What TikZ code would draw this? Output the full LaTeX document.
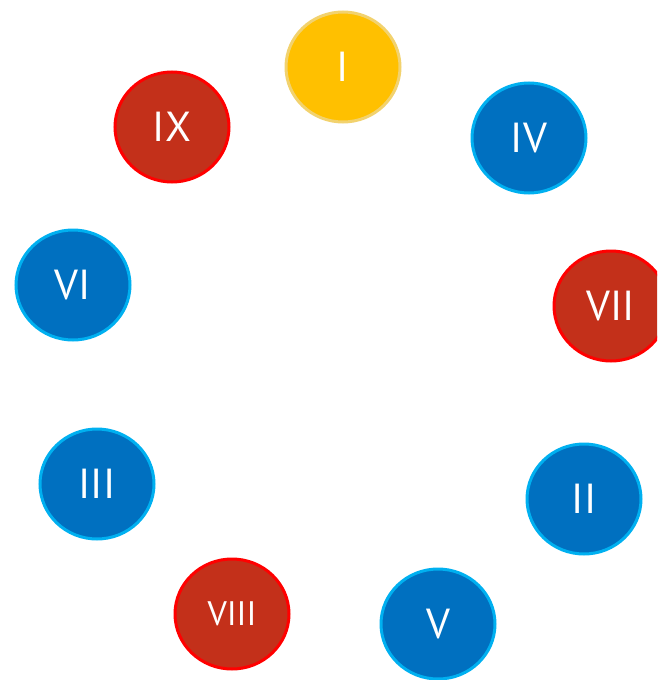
\documentclass[tikz,border=0pt]{standalone}
\usepackage{fontspec}
\setmainfont{PT Sans}
\usetikzlibrary{shapes.geometric}
\definecolor{yfill}{HTML}{FFC000}
\definecolor{ydraw}{HTML}{F2D26E}
\definecolor{bfill}{HTML}{0070C0}
\definecolor{bdraw}{HTML}{00B0F0}
\definecolor{rfill}{HTML}{C3301A}
\definecolor{rdraw}{HTML}{FF0000}
\tikzset{
  disc/.style={ellipse, minimum width=114pt, minimum height=110pt, inner sep=0pt,
    line width=3pt, text=white, font=\fontsize{42}{42}\selectfont},
  ydisc/.style={disc, fill=yfill, draw=ydraw},
  bdisc/.style={disc, fill=bfill, draw=bdraw},
  rdisc/.style={disc, fill=rfill, draw=rdraw},
}
\begin{document}
\begin{tikzpicture}[x=1pt,y=-1pt]
\useasboundingbox (0,0) rectangle (657,680);
\begin{scope}
\clip (0,0) rectangle (657,680);
\node[ydisc] (n1) at (343,67) {I};
\node[bdisc] (n4) at (529,138) {IV};
\node[rdisc] (n7) at (611,306) {VII};
\node[bdisc] (n2) at (584,499) {II};
\node[bdisc] (n5) at (438,624) {V};
\node[rdisc, font=\fontsize{34}{34}\selectfont] (n8) at (232,614) {VIII};
\node[bdisc] (n3) at (97,484) {III};
\node[bdisc] (n6) at (73,285) {VI};
\node[rdisc] (n9) at (172,127) {IX};
\end{scope}
\end{tikzpicture}
\end{document}
